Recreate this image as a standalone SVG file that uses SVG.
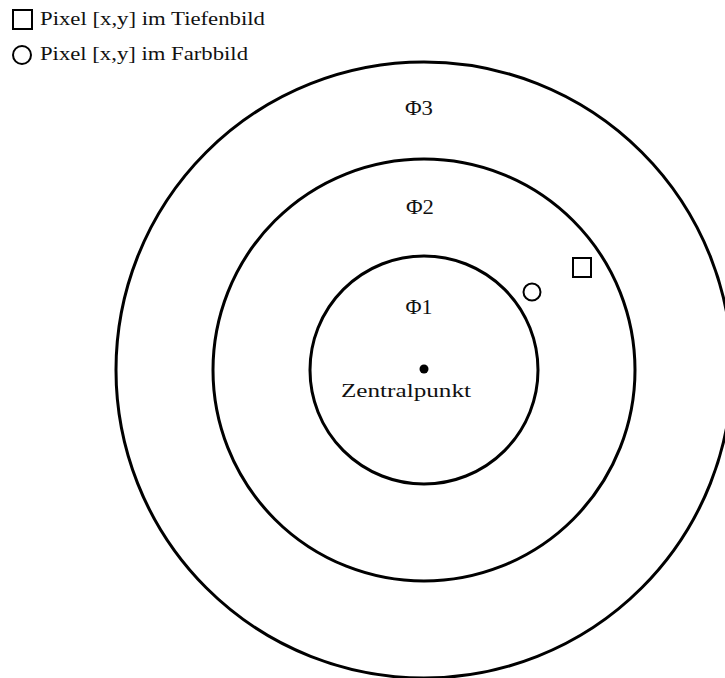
<svg xmlns="http://www.w3.org/2000/svg" width="725" height="678" viewBox="0 0 725 678">
  <style>
    .ring { fill: none; stroke: #000; stroke-width: 3; }
    .mark { fill: #fff; stroke: #000; stroke-width: 2; }
    .lbl { font-family: "Liberation Serif", "Times New Roman", serif; font-size: 18px; fill: #111; }
    .phi { font-size: 20px; }
  </style>
  <rect width="725" height="678" fill="#fff"/>

  <!-- legend -->
  <g id="legend">
    <rect class="mark" x="13" y="10" width="19" height="19"/>
    <text class="lbl" x="40" y="25" textLength="225" lengthAdjust="spacingAndGlyphs">Pixel [x,y] im Tiefenbild</text>
    <circle class="mark" cx="22" cy="55" r="9"/>
    <text class="lbl" x="40" y="60" textLength="208" lengthAdjust="spacingAndGlyphs">Pixel [x,y] im Farbbild</text>
  </g>

  <!-- concentric zones around the centre point -->
  <g id="zone3">
    <circle class="ring" cx="424" cy="370" r="308"/>
    <text class="lbl phi" x="419" y="115" text-anchor="middle" textLength="28" lengthAdjust="spacingAndGlyphs">Φ3</text>
  </g>
  <g id="zone2">
    <circle class="ring" cx="424" cy="370" r="211"/>
    <text class="lbl phi" x="420" y="214" text-anchor="middle" textLength="28" lengthAdjust="spacingAndGlyphs">Φ2</text>
  </g>
  <g id="zone1">
    <circle class="ring" cx="424" cy="370" r="114"/>
    <text class="lbl phi" x="419" y="314" text-anchor="middle" textLength="27" lengthAdjust="spacingAndGlyphs">Φ1</text>
  </g>
  <g id="center">
    <circle cx="424" cy="369" r="4.5" fill="#000"/>
    <text class="lbl" x="406" y="397" text-anchor="middle" textLength="130" lengthAdjust="spacingAndGlyphs">Zentralpunkt</text>
  </g>

  <!-- sample pixels -->
  <g id="pixel-depth">
    <rect class="mark" x="573" y="258" width="18" height="19"/>
  </g>
  <g id="pixel-color">
    <circle class="mark" cx="532" cy="292" r="8.5"/>
  </g>

  <g id="connectors"></g>
</svg>
